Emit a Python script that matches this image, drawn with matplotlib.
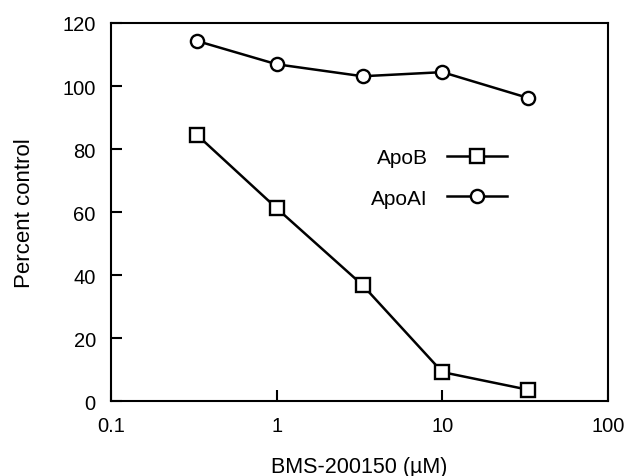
import matplotlib
matplotlib.use('Agg')
import matplotlib.pyplot as plt
from matplotlib.ticker import FixedLocator, FixedFormatter, NullLocator

plt.rcParams['font.family'] = ['Liberation Sans', 'DejaVu Sans']

# data
conc = [0.33, 1.0, 3.3, 10.0, 33.0]
apob = [84.5, 61.2, 36.8, 9.2, 3.6]
apoai = [114.3, 106.9, 103.1, 104.4, 96.2]
xticks = [0.1, 1, 10, 100]
xticklabels = ['0.1', '1', '10', '100']
yticks = [0, 20, 40, 60, 80, 100, 120]

fig = plt.figure(figsize=(6.28, 4.77), dpi=100)
ax = fig.add_axes([0.1768, 0.157, 0.7914, 0.7927])

ax.plot(conc, apob, '-s', color='black', lw=1.8, ms=9.5, mfc='white',
        mec='black', mew=1.7, label='ApoB')
ax.plot(conc, apoai, '-o', color='black', lw=1.8, ms=9.5, mfc='white',
        mec='black', mew=1.7, label='ApoAI')

ax.set_xscale('log')
ax.set_xlim(0.1, 100)
ax.set_ylim(0, 120)
ax.xaxis.set_major_locator(FixedLocator(xticks))
ax.xaxis.set_major_formatter(FixedFormatter(xticklabels))
ax.xaxis.set_minor_locator(NullLocator())
ax.set_yticks(yticks)

ax.tick_params(direction='in', length=8, width=1.5, labelsize=14.5, pad=11)
for s in ax.spines.values():
    s.set_linewidth(1.5)

ax.set_xlabel('BMS-200150 (µM)', fontsize=15.5, labelpad=15)
ax.set_ylabel('Percent control', fontsize=16, labelpad=20)

ax.legend(loc='center', bbox_to_anchor=(0.66, 0.59), frameon=False,
          markerfirst=False, fontsize=15, handlelength=2.9,
          handletextpad=0.9, labelspacing=1.02)

fig.savefig('out.png', dpi=100)
